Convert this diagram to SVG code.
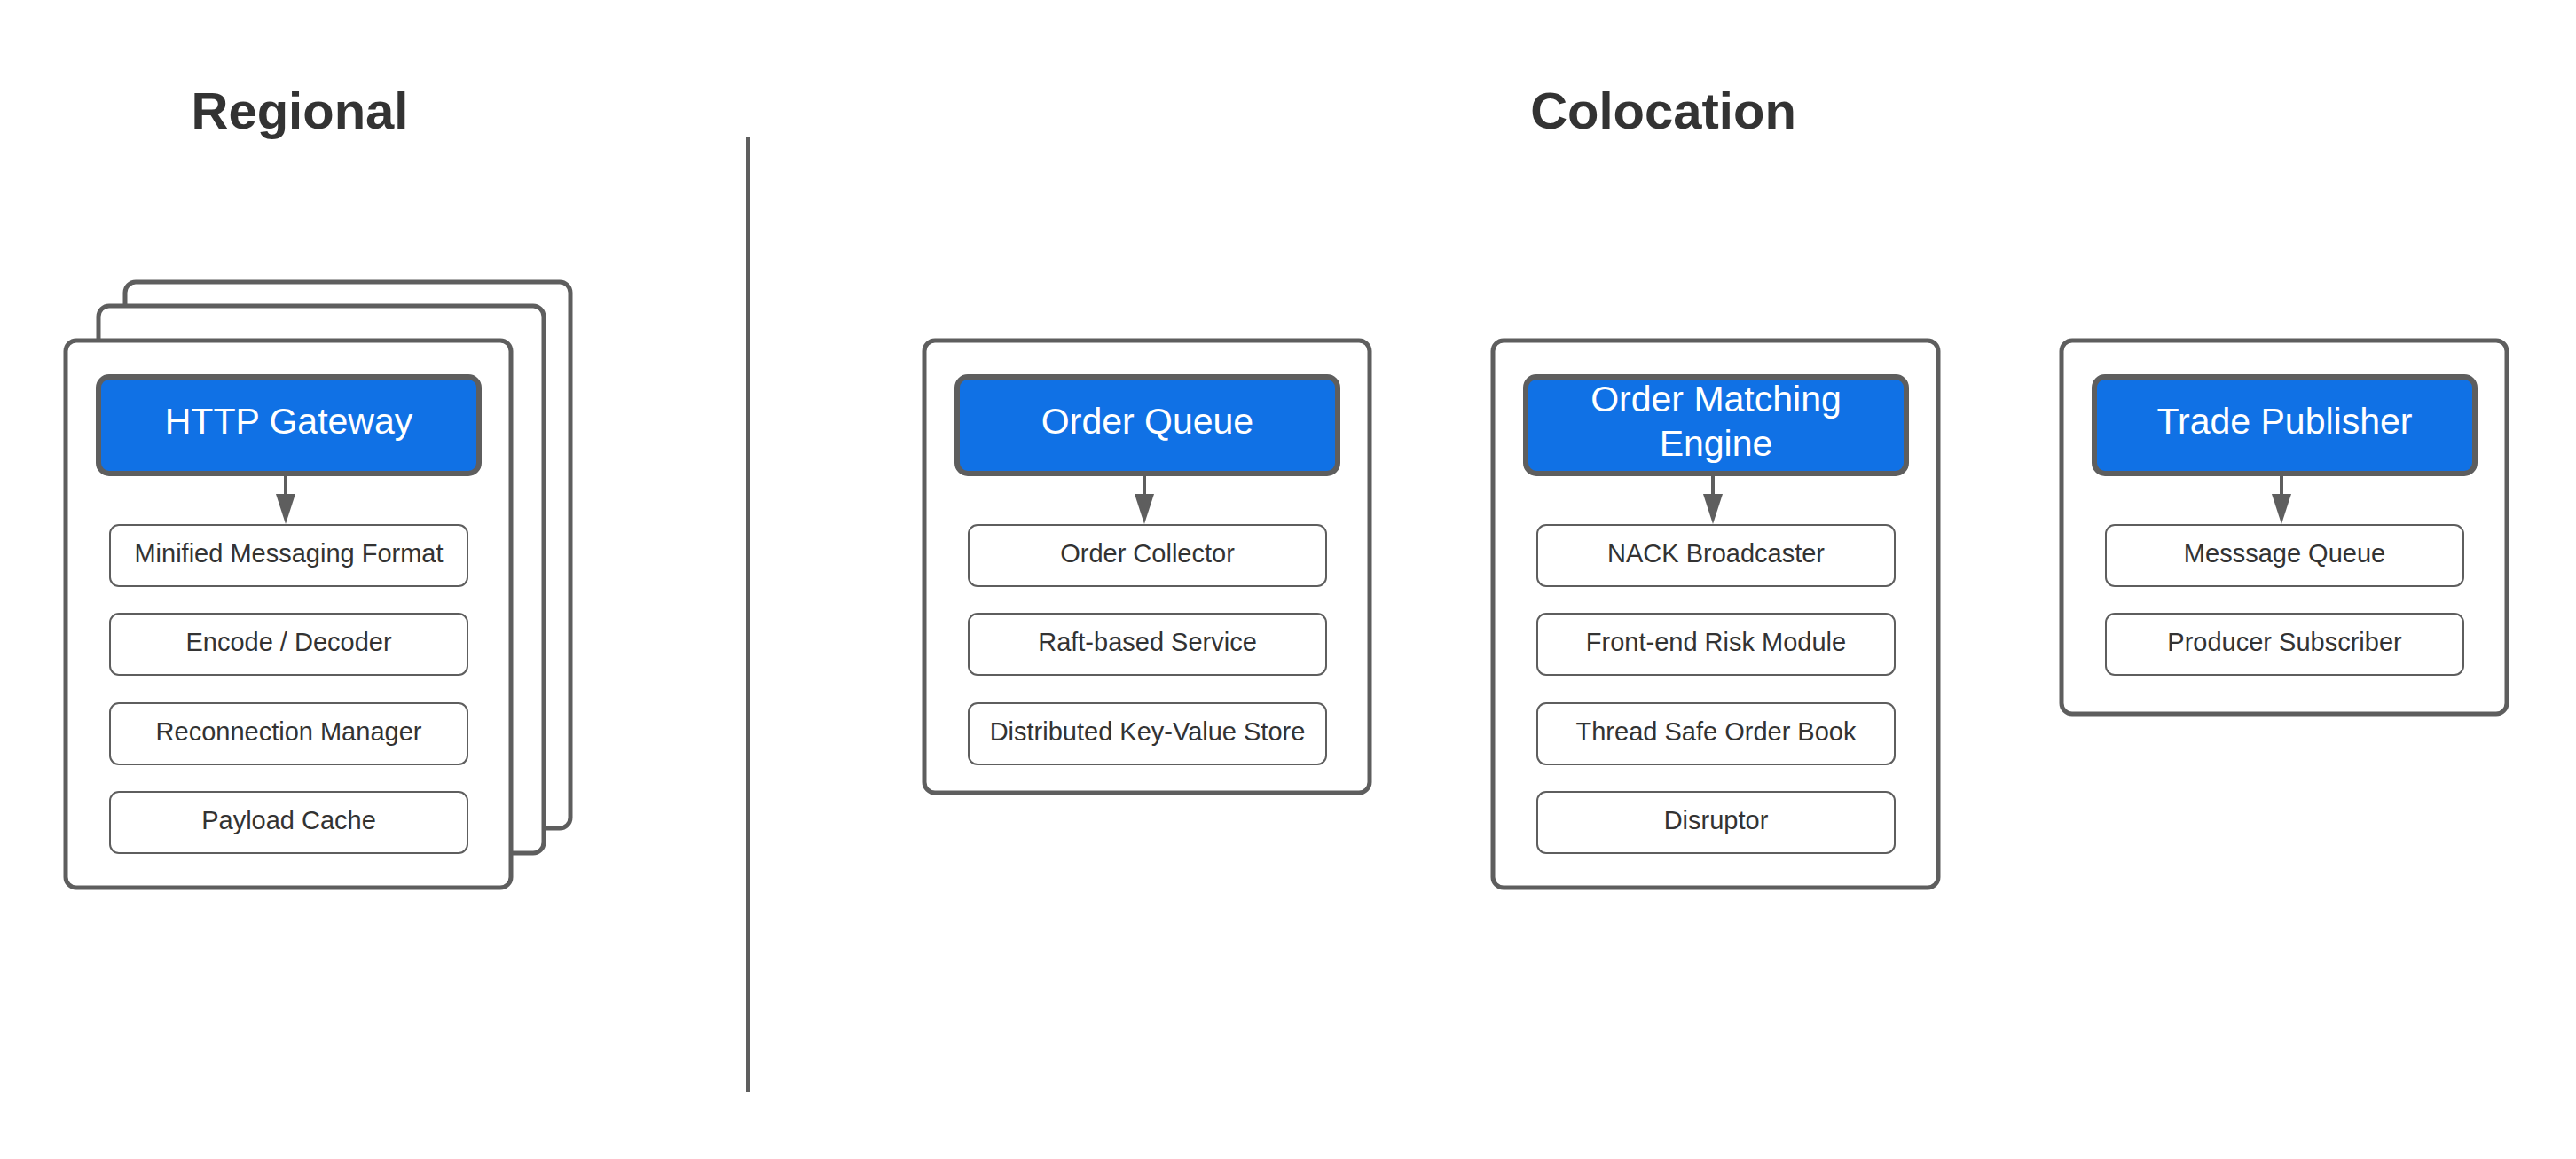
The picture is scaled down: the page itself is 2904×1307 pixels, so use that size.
<svg xmlns="http://www.w3.org/2000/svg" width="2904" height="1307" viewBox="0 0 2904 1307">
<defs>
<style>
.bg{fill:#ffffff}
.card{fill:#ffffff;stroke:#5e5e5e;stroke-width:5}
.head{fill:#1071e5;stroke:#5e5e5e;stroke-width:6}
.sub{fill:#ffffff;stroke:#5e5e5e;stroke-width:2}
.title{font-family:"Liberation Sans",Arial,sans-serif;font-weight:bold;font-size:58px;fill:#333333;text-anchor:middle}
.htxt{font-family:"Liberation Sans",Arial,sans-serif;font-size:41px;fill:#ffffff;text-anchor:middle}
.stxt{font-family:"Liberation Sans",Arial,sans-serif;font-size:29px;fill:#333333;text-anchor:middle}
.conn{stroke:#5e5e5e;stroke-width:4;fill:none}
.divider{stroke:#5e5e5e;stroke-width:4}
</style>
<marker id="arrow" markerUnits="userSpaceOnUse" markerWidth="34" markerHeight="22" refX="3" refY="11" orient="auto" viewBox="0 0 34 22">
<path d="M0,0 L34,11 L0,22 z" fill="#5e5e5e"/>
</marker>
</defs>
<rect class="bg" x="0" y="0" width="2904" height="1307"/>

<text class="title" x="338" y="145">Regional</text>
<text class="title" x="1875" y="145">Colocation</text>

<line class="divider" x1="843" y1="155" x2="843" y2="1231"/>

<g id="regional-stack">
<rect class="card" x="141" y="318" width="502" height="616" rx="12"/>
<rect class="card" x="111" y="345" width="502" height="617" rx="12"/>
<rect class="card" x="74" y="384" width="502" height="617" rx="12"/>
</g>

<g id="http-gateway">
<rect class="head" x="111" y="425" width="429" height="109" rx="12"/>
<text class="htxt" x="325.5" y="489">HTTP Gateway</text>
</g>
<g id="minified-messaging-format">
<rect class="sub" x="124" y="592" width="403" height="69" rx="10"/>
<text class="stxt" x="325.5" y="634">Minified Messaging Format</text>
</g>
<g id="encode-decoder">
<rect class="sub" x="124" y="692" width="403" height="69" rx="10"/>
<text class="stxt" x="325.5" y="734">Encode / Decoder</text>
</g>
<g id="reconnection-manager">
<rect class="sub" x="124" y="793" width="403" height="69" rx="10"/>
<text class="stxt" x="325.5" y="835">Reconnection Manager</text>
</g>
<g id="payload-cache">
<rect class="sub" x="124" y="893" width="403" height="69" rx="10"/>
<text class="stxt" x="325.5" y="935">Payload Cache</text>
</g>

<g id="order-queue-card">
<rect class="card" x="1042" y="384" width="502" height="510" rx="12"/>
</g>
<g id="order-queue">
<rect class="head" x="1079" y="425" width="429" height="109" rx="12"/>
<text class="htxt" x="1293.5" y="489">Order Queue</text>
</g>
<g id="order-collector">
<rect class="sub" x="1092" y="592" width="403" height="69" rx="10"/>
<text class="stxt" x="1293.5" y="634">Order Collector</text>
</g>
<g id="raft-based-service">
<rect class="sub" x="1092" y="692" width="403" height="69" rx="10"/>
<text class="stxt" x="1293.5" y="734">Raft-based Service</text>
</g>
<g id="distributed-kv-store">
<rect class="sub" x="1092" y="793" width="403" height="69" rx="10"/>
<text class="stxt" x="1293.5" y="835">Distributed Key-Value Store</text>
</g>

<g id="order-matching-card">
<rect class="card" x="1683" y="384" width="502" height="617" rx="12"/>
</g>
<g id="order-matching-engine">
<rect class="head" x="1720" y="425" width="429" height="109" rx="12"/>
<text class="htxt" x="1934.5" y="464">Order Matching</text>
<text class="htxt" x="1934.5" y="514">Engine</text>
</g>
<g id="nack-broadcaster">
<rect class="sub" x="1733" y="592" width="403" height="69" rx="10"/>
<text class="stxt" x="1934.5" y="634">NACK Broadcaster</text>
</g>
<g id="front-end-risk-module">
<rect class="sub" x="1733" y="692" width="403" height="69" rx="10"/>
<text class="stxt" x="1934.5" y="734">Front-end Risk Module</text>
</g>
<g id="thread-safe-order-book">
<rect class="sub" x="1733" y="793" width="403" height="69" rx="10"/>
<text class="stxt" x="1934.5" y="835">Thread Safe Order Book</text>
</g>
<g id="disruptor">
<rect class="sub" x="1733" y="893" width="403" height="69" rx="10"/>
<text class="stxt" x="1934.5" y="935">Disruptor</text>
</g>

<g id="trade-publisher-card">
<rect class="card" x="2324" y="384" width="502" height="421" rx="12"/>
</g>
<g id="trade-publisher">
<rect class="head" x="2361" y="425" width="429" height="109" rx="12"/>
<text class="htxt" x="2575.5" y="489">Trade Publisher</text>
</g>
<g id="message-queue">
<rect class="sub" x="2374" y="592" width="403" height="69" rx="10"/>
<text class="stxt" x="2575.5" y="634">Messsage Queue</text>
</g>
<g id="producer-subscriber">
<rect class="sub" x="2374" y="692" width="403" height="69" rx="10"/>
<text class="stxt" x="2575.5" y="734">Producer Subscriber</text>
</g>

<g id="connectors">
<line class="conn" x1="322" y1="537" x2="322" y2="560" marker-end="url(#arrow)"/>
<line class="conn" x1="1290" y1="537" x2="1290" y2="560" marker-end="url(#arrow)"/>
<line class="conn" x1="1931" y1="537" x2="1931" y2="560" marker-end="url(#arrow)"/>
<line class="conn" x1="2572" y1="537" x2="2572" y2="560" marker-end="url(#arrow)"/>
</g>
</svg>
